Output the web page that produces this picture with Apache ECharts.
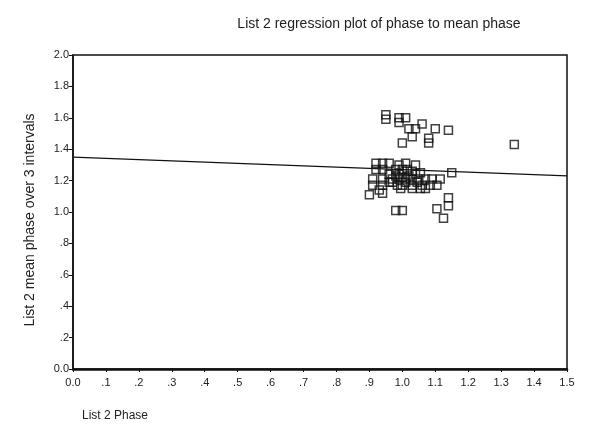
<!DOCTYPE html>
<html>
<head>
<meta charset="utf-8">
<script src="https://cdn.jsdelivr.net/npm/echarts@6/dist/echarts.min.js"></script>
<style>
html, body { margin: 0; padding: 0; background: #fff; }
#chart { width: 596px; height: 441px; }
</style>
</head>
<body>
<div id="chart"></div>
<script>
// list 2 phase (x) vs mean phase over 3 intervals (y)
const phase = [
	0.95, 0.95, 0.99, 0.99, 1.01, 1.02, 1.04, 1.06, 1.10, 1.14, 1.00, 1.03, 1.08, 1.08, 1.34,
	0.92, 0.94, 0.96, 0.99, 1.01, 1.04,
	0.92, 0.94, 0.98, 1.00, 1.015, 1.03, 1.055, 1.15, 0.96, 0.99,
	0.91, 0.94, 0.97, 0.99, 1.01, 1.03, 1.05, 1.07, 1.09, 1.115, 0.96, 0.98, 1.00, 1.02, 1.04,
	0.91, 0.94, 0.985, 1.00, 1.03, 1.06, 1.085, 1.105, 0.97, 1.01, 1.045,
	0.995, 1.03, 1.055, 1.07,
	0.90, 0.94, 0.93,
	0.98, 1.00, 1.14, 1.14, 1.105, 1.125
];
const meanPhase = [
	1.62, 1.59, 1.60, 1.57, 1.60, 1.53, 1.53, 1.56, 1.53, 1.52, 1.44, 1.48, 1.47, 1.44, 1.43,
	1.31, 1.31, 1.31, 1.30, 1.31, 1.30,
	1.27, 1.27, 1.27, 1.27, 1.27, 1.26, 1.25, 1.25, 1.24, 1.24,
	1.21, 1.21, 1.21, 1.21, 1.21, 1.21, 1.21, 1.21, 1.21, 1.21, 1.19, 1.23, 1.22, 1.23, 1.24,
	1.17, 1.17, 1.17, 1.17, 1.17, 1.17, 1.17, 1.17, 1.19, 1.19, 1.19,
	1.15, 1.15, 1.15, 1.15,
	1.11, 1.12, 1.14,
	1.01, 1.01, 1.09, 1.04, 1.02, 0.96
];
const fitX = [0, 1.5];
const fitY = [1.35, 1.23];

const fmt = (v) => {
	const s = Number(v).toFixed(1);
	if (s === '0.0') return '0.0';
	return Math.abs(v) < 1 ? s.replace(/^0/, '') : s;
};

const chart = echarts.init(document.getElementById('chart'));
chart.setOption({
	animation: false,
	backgroundColor: '#fff',
	textStyle: { fontFamily: 'Liberation Sans, Arial, sans-serif', color: '#222' },
	title: {
		text: 'List 2 regression plot of phase to mean phase',
		left: 374,
		top: 12,
		textAlign: 'center',
		textStyle: { fontSize: 14, fontWeight: 'normal', color: '#222' }
	},
	grid: {
		left: 73, right: 29, top: 55, bottom: 72,
		show: true,
		borderColor: '#111',
		borderWidth: 1.5
	},
	xAxis: {
		type: 'value',
		min: 0, max: 1.5, interval: 0.1,
		splitLine: { show: false },
		axisLine: { lineStyle: { color: '#111', width: 2.5 } },
		axisTick: { show: true, length: 3, lineStyle: { color: '#111' } },
		axisLabel: { formatter: fmt, fontSize: 11, color: '#222', margin: 8 }
	},
	yAxis: {
		type: 'value',
		min: 0, max: 2, interval: 0.2,
		splitLine: { show: false },
		axisLine: { lineStyle: { color: '#111', width: 1.5 } },
		axisTick: { show: true, length: 4, lineStyle: { color: '#111' } },
		axisLabel: { formatter: fmt, fontSize: 11, color: '#222', margin: 4 }
	},
	graphic: [
		{
			type: 'text',
			left: 82, top: 410,
			style: { text: 'List 2 Phase', fontSize: 12, fill: '#222', fontFamily: 'Liberation Sans, Arial, sans-serif' }
		},
		{
			type: 'text',
			x: 30, y: 220,
			rotation: Math.PI / 2,
			style: {
				text: 'List 2 mean phase over 3 intervals',
				fontSize: 14, fill: '#222',
				align: 'center', verticalAlign: 'middle',
				fontFamily: 'Liberation Sans, Arial, sans-serif'
			}
		}
	],
	series: [
		{
			type: 'line',
			data: fitX.map((x, i) => [x, fitY[i]]),
			symbol: 'none',
			lineStyle: { color: '#111', width: 1.3 },
			z: 2
		},
		{
			type: 'scatter',
			data: phase.map((x, i) => [x, meanPhase[i]]),
			symbol: 'rect',
			symbolSize: 8,
			itemStyle: { color: 'rgba(255,255,255,0)', borderColor: '#111', borderWidth: 1.5 },
			z: 3
		}
	]
});
</script>
</body>
</html>
